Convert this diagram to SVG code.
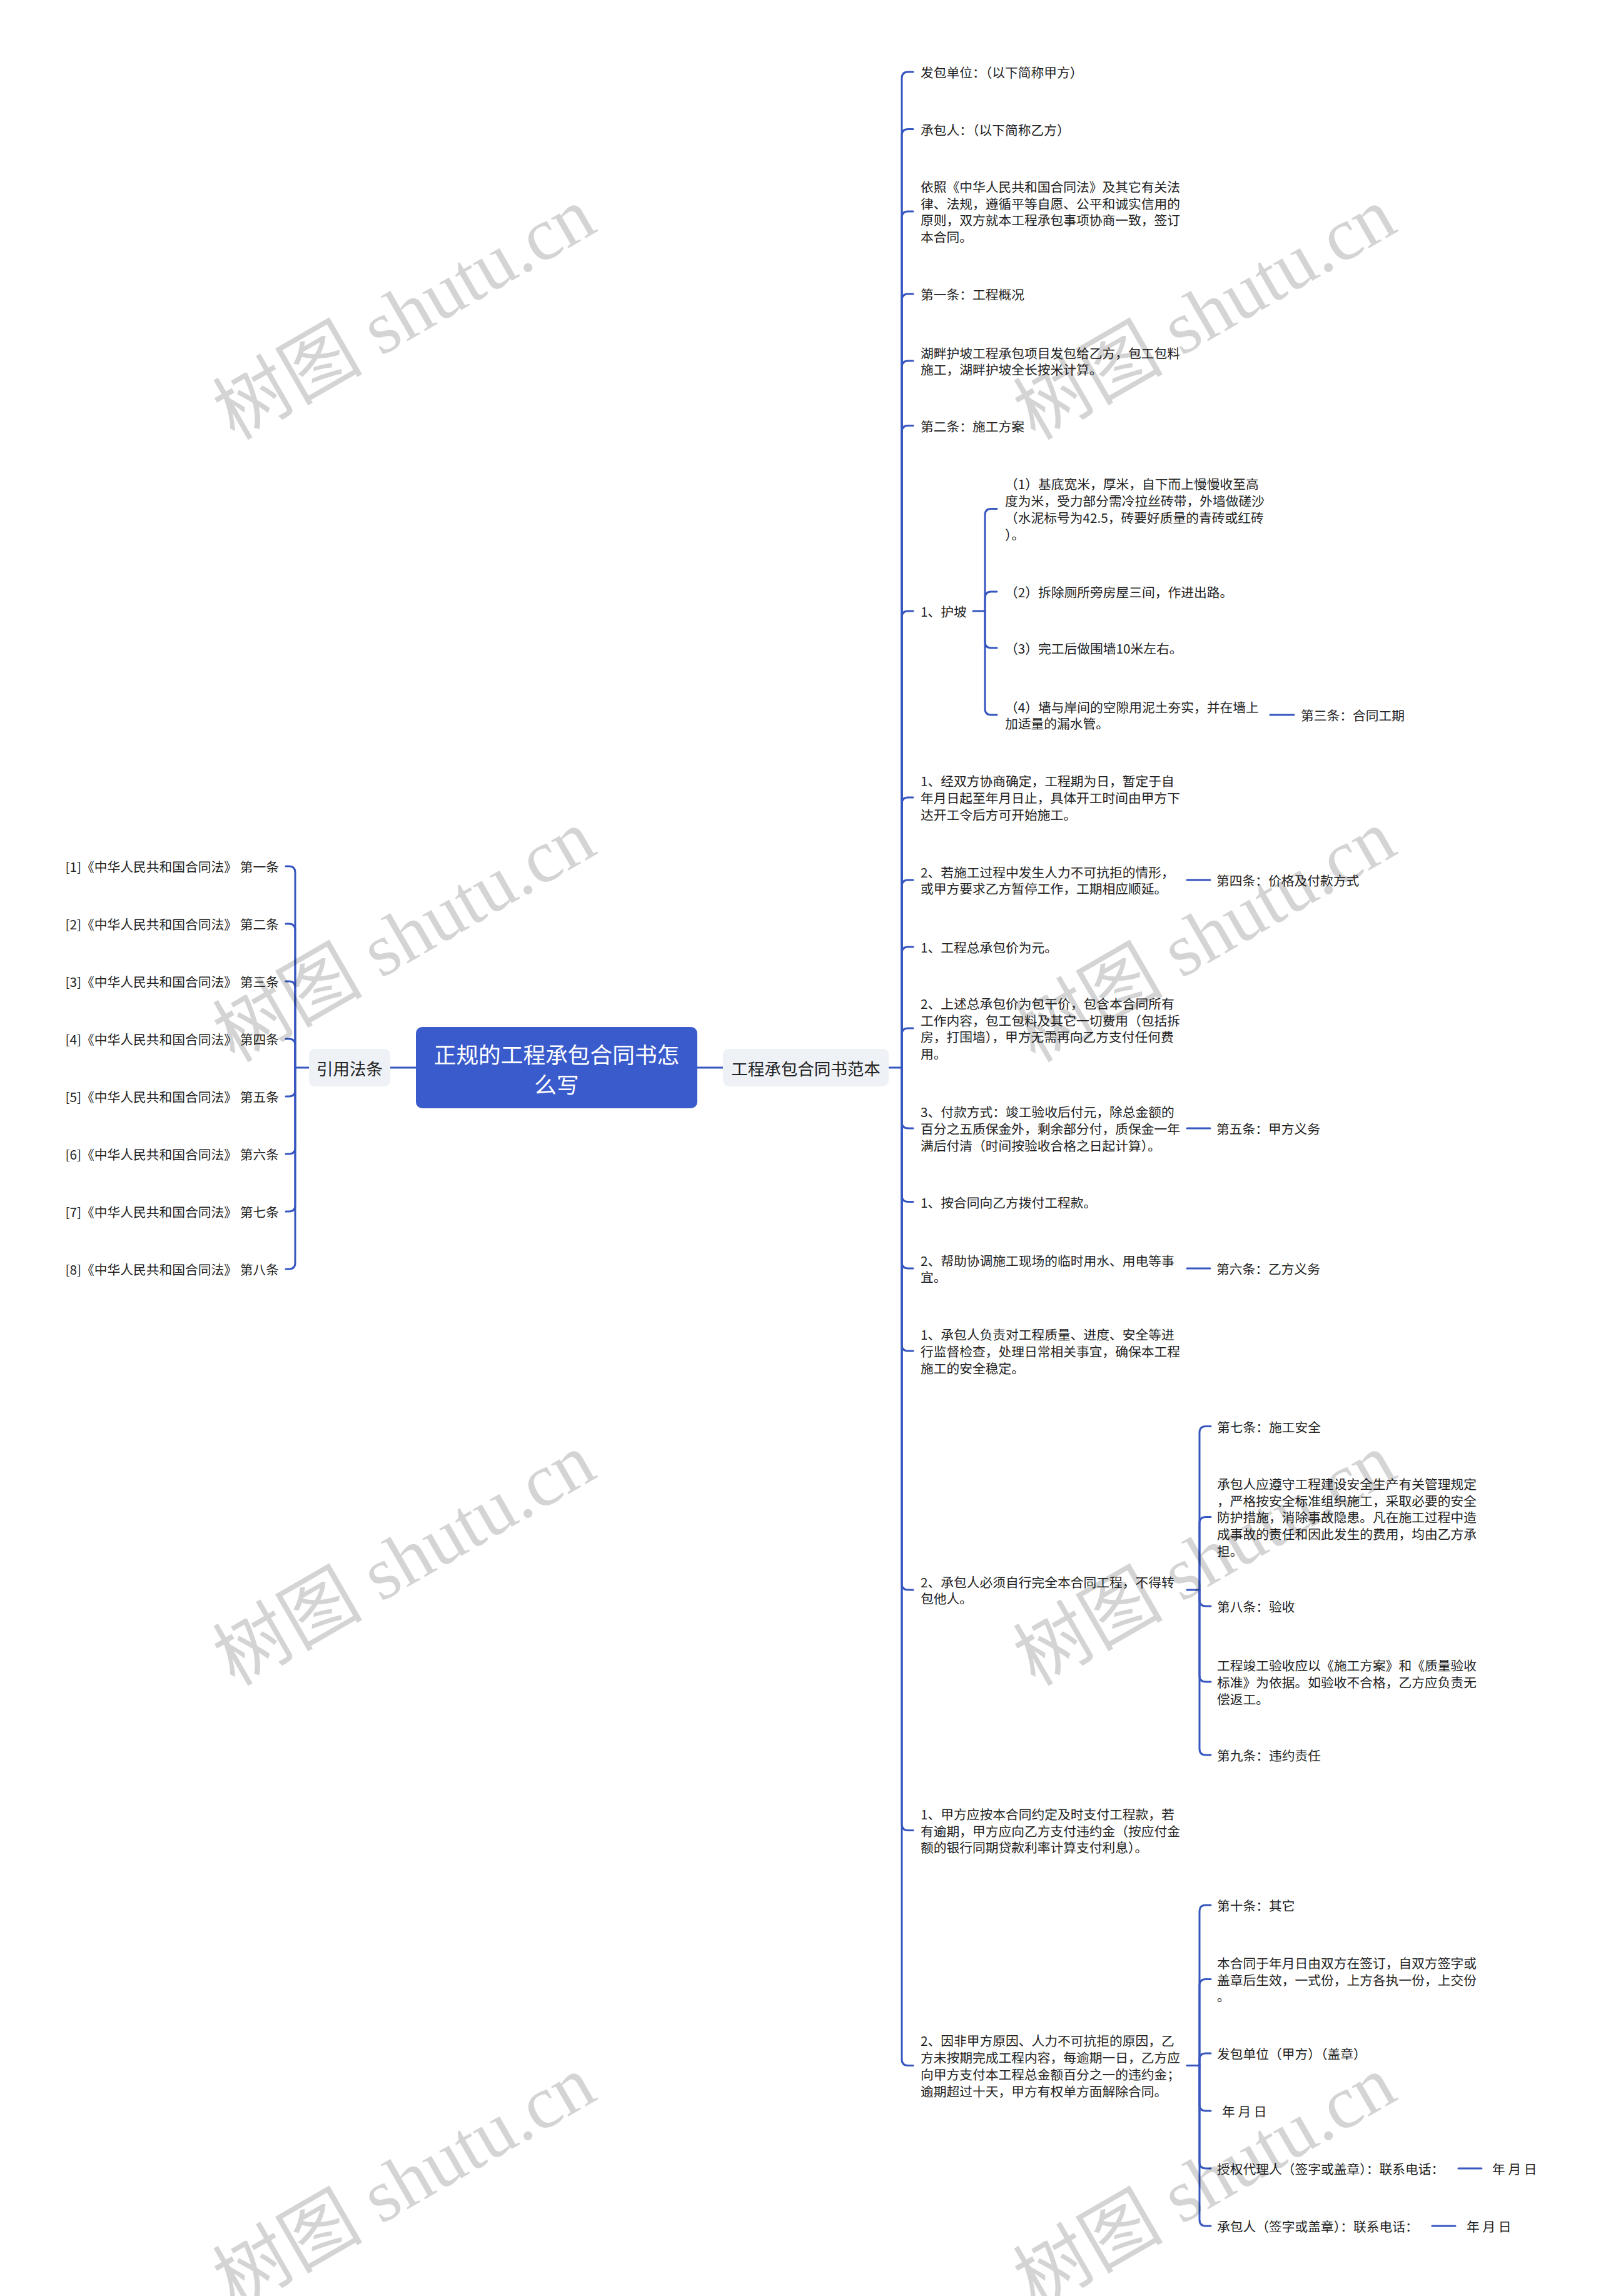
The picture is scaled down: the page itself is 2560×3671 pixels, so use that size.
<svg xmlns="http://www.w3.org/2000/svg" width="2560" height="3671" viewBox="0 0 2560 3671">
<style>
.t{font-family:"Noto Sans CJK SC","Noto Sans",sans-serif;font-size:20.75px;fill:#222}
tspan{dominant-baseline:central}
.ln{fill:none;stroke:#3656c0;stroke-width:3;stroke-linecap:round;stroke-linejoin:round}
.box{fill:#eef1f6}
.bt{font-family:"Noto Sans CJK SC","Noto Sans",sans-serif;font-size:26.5px;fill:#222;text-anchor:middle}
.rt{font-family:"Noto Sans CJK SC","Noto Sans",sans-serif;font-size:35.7px;fill:#fff;text-anchor:middle}
.wm{font-family:"Liberation Serif","Noto Sans CJK SC",serif;font-size:120px;fill:#000;fill-opacity:0.17}
</style>
<rect width="2560" height="3671" fill="#fff"/>

<g id="connectors" class="ln">
<path d="M665 1707H624M1115 1707H1156M494 1707H472M1421 1707H1442"/>
<path d="M472 1707V1395Q472 1385 462 1385H457"/>
<path d="M472 1707V1487Q472 1477 462 1477H457"/>
<path d="M472 1707V1579Q472 1569 462 1569H457"/>
<path d="M472 1707V1671Q472 1661 462 1661H457"/>
<path d="M472 1707V1743Q472 1753 462 1753H457"/>
<path d="M472 1707V1835Q472 1845 462 1845H457"/>
<path d="M472 1707V1927Q472 1937 462 1937H457"/>
<path d="M472 1707V2019Q472 2029 462 2029H457"/>
<path d="M1442 1707V125Q1442 115 1452 115H1460"/>
<path d="M1442 1707V216.5Q1442 206.5 1452 206.5H1460"/>
<path d="M1442 1707V348Q1442 338 1452 338H1460"/>
<path d="M1442 1707V480Q1442 470 1452 470H1460"/>
<path d="M1442 1707V587Q1442 577 1452 577H1460"/>
<path d="M1442 1707V690.5Q1442 680.5 1452 680.5H1460"/>
<path d="M1442 1707V987Q1442 977 1452 977H1460"/>
<path d="M1442 1707V1285Q1442 1275 1452 1275H1460"/>
<path d="M1442 1707V1417Q1442 1407 1452 1407H1460"/>
<path d="M1442 1707V1524Q1442 1514 1452 1514H1460"/>
<path d="M1442 1707V1654Q1442 1644 1452 1644H1460"/>
<path d="M1442 1707V1794Q1442 1804 1452 1804H1460"/>
<path d="M1442 1707V1911.5Q1442 1921.5 1452 1921.5H1460"/>
<path d="M1442 1707V2018Q1442 2028 1452 2028H1460"/>
<path d="M1442 1707V2150Q1442 2160 1452 2160H1460"/>
<path d="M1442 1707V2532Q1442 2542 1452 2542H1460"/>
<path d="M1442 1707V2916.5Q1442 2926.5 1452 2926.5H1460"/>
<path d="M1442 1707V3292.5Q1442 3302.5 1452 3302.5H1460"/>
<path d="M1556 977H1575"/>
<path d="M1575 977V823.5Q1575 813.5 1585 813.5H1594"/>
<path d="M1575 977V956Q1575 946 1585 946H1594"/>
<path d="M1575 977V1026Q1575 1036 1585 1036H1594"/>
<path d="M1575 977V1133Q1575 1143 1585 1143H1594"/>
<path d="M2031 1143H2069"/>
<path d="M1898 1407H1935M1898 1804H1935M1898 2028H1935"/>
<path d="M1898 2542H1918"/>
<path d="M1918 2542V2290.5Q1918 2280.5 1928 2280.5H1936"/>
<path d="M1918 2542V2435.4Q1918 2425.4 1928 2425.4H1936"/>
<path d="M1918 2542V2558Q1918 2568 1928 2568H1936"/>
<path d="M1918 2542V2679Q1918 2689 1928 2689H1936"/>
<path d="M1918 2542V2796Q1918 2806 1928 2806H1936"/>
<path d="M1898 3302.5H1918"/>
<path d="M1918 3302.5V3056Q1918 3046 1928 3046H1936"/>
<path d="M1918 3302.5V3174.5Q1918 3164.5 1928 3164.5H1936"/>
<path d="M1918 3302.5V3293Q1918 3283 1928 3283H1936"/>
<path d="M1918 3302.5V3365Q1918 3375 1928 3375H1936"/>
<path d="M1918 3302.5V3457Q1918 3467 1928 3467H1936"/>
<path d="M1918 3302.5V3549Q1918 3559 1928 3559H1936"/>
<path d="M2332 3467H2369M2290 3559H2327"/>
</g>

<g id="root">
<rect x="665" y="1642" width="450" height="130" rx="10" fill="#3a5bcc"/>
<text class="rt"><tspan x="890" y="1684">正规的工程承包合同书怎</tspan><tspan x="890" y="1732">么写</tspan></text>
</g>
<g id="n-yinyong">
<rect class="box" x="494" y="1677" width="130" height="60" rx="9"/>
<text class="bt"><tspan x="559" y="1707">引用法条</tspan></text>
</g>
<g id="n-fanben">
<rect class="box" x="1156" y="1677" width="265" height="60" rx="9"/>
<text class="bt"><tspan x="1288.5" y="1707">工程承包合同书范本</tspan></text>
</g>

<g id="left-leaves" text-anchor="end">
<g id="l1"><text class="t"><tspan x="446" y="1385">[1]《中华人民共和国合同法》 第一条</tspan></text></g>
<g id="l2"><text class="t"><tspan x="446" y="1477">[2]《中华人民共和国合同法》 第二条</tspan></text></g>
<g id="l3"><text class="t"><tspan x="446" y="1569">[3]《中华人民共和国合同法》 第三条</tspan></text></g>
<g id="l4"><text class="t"><tspan x="446" y="1661">[4]《中华人民共和国合同法》 第四条</tspan></text></g>
<g id="l5"><text class="t"><tspan x="446" y="1753">[5]《中华人民共和国合同法》 第五条</tspan></text></g>
<g id="l6"><text class="t"><tspan x="446" y="1845">[6]《中华人民共和国合同法》 第六条</tspan></text></g>
<g id="l7"><text class="t"><tspan x="446" y="1937">[7]《中华人民共和国合同法》 第七条</tspan></text></g>
<g id="l8"><text class="t"><tspan x="446" y="2029">[8]《中华人民共和国合同法》 第八条</tspan></text></g>
</g>

<g id="right-nodes">
<g id="r1"><text class="t"><tspan x="1472" y="115">发包单位：（以下简称甲方）</tspan></text></g>
<g id="r2"><text class="t"><tspan x="1472" y="206.5">承包人：（以下简称乙方）</tspan></text></g>
<g id="r3"><text class="t"><tspan x="1472" y="297.8">依照《中华人民共和国合同法》及其它有关法</tspan><tspan x="1472" y="324.6">律、法规，遵循平等自愿、公平和诚实信用的</tspan><tspan x="1472" y="351.4">原则，双方就本工程承包事项协商一致，签订</tspan><tspan x="1472" y="378.2">本合同。</tspan></text></g>
<g id="r4"><text class="t"><tspan x="1472" y="470">第一条：工程概况</tspan></text></g>
<g id="r5"><text class="t"><tspan x="1472" y="563.6">湖畔护坡工程承包项目发包给乙方，包工包料</tspan><tspan x="1472" y="590.4">施工，湖畔护坡全长按米计算。</tspan></text></g>
<g id="r6"><text class="t"><tspan x="1472" y="680.5">第二条：施工方案</tspan></text></g>
<g id="r7"><text class="t"><tspan x="1472" y="977">1、护坡</tspan></text></g>
<g id="r7-1"><text class="t"><tspan x="1607" y="773.3">（1）基底宽米，厚米，自下而上慢慢收至高</tspan><tspan x="1607" y="800.1">度为米，受力部分需冷拉丝砖带，外墙做磋沙</tspan><tspan x="1607" y="826.9">（水泥标号为42.5，砖要好质量的青砖或红砖</tspan><tspan x="1607" y="853.7">）。</tspan></text></g>
<g id="r7-2"><text class="t"><tspan x="1607" y="946">（2）拆除厕所旁房屋三间，作进出路。</tspan></text></g>
<g id="r7-3"><text class="t"><tspan x="1607" y="1036">（3）完工后做围墙10米左右。</tspan></text></g>
<g id="r7-4"><text class="t"><tspan x="1607" y="1129.6">（4）墙与岸间的空隙用泥土夯实，并在墙上</tspan><tspan x="1607" y="1156.4">加适量的漏水管。</tspan></text></g>
<g id="r7-4-1"><text class="t"><tspan x="2080" y="1143">第三条：合同工期</tspan></text></g>
<g id="r8"><text class="t"><tspan x="1472" y="1248.2">1、经双方协商确定，工程期为日，暂定于自</tspan><tspan x="1472" y="1275">年月日起至年月日止，具体开工时间由甲方下</tspan><tspan x="1472" y="1301.8">达开工令后方可开始施工。</tspan></text></g>
<g id="r9"><text class="t"><tspan x="1472" y="1393.6">2、若施工过程中发生人力不可抗拒的情形，</tspan><tspan x="1472" y="1420.4">或甲方要求乙方暂停工作，工期相应顺延。</tspan></text></g>
<g id="r9-1"><text class="t"><tspan x="1945" y="1407">第四条：价格及付款方式</tspan></text></g>
<g id="r10"><text class="t"><tspan x="1472" y="1514">1、工程总承包价为元。</tspan></text></g>
<g id="r11"><text class="t"><tspan x="1472" y="1603.8">2、上述总承包价为包干价，包含本合同所有</tspan><tspan x="1472" y="1630.6">工作内容，包工包料及其它一切费用（包括拆</tspan><tspan x="1472" y="1657.4">房，打围墙），甲方无需再向乙方支付任何费</tspan><tspan x="1472" y="1684.2">用。</tspan></text></g>
<g id="r12"><text class="t"><tspan x="1472" y="1777.2">3、付款方式：竣工验收后付元，除总金额的</tspan><tspan x="1472" y="1804">百分之五质保金外，剩余部分付，质保金一年</tspan><tspan x="1472" y="1830.8">满后付清（时间按验收合格之日起计算）。</tspan></text></g>
<g id="r12-1"><text class="t"><tspan x="1945" y="1804">第五条：甲方义务</tspan></text></g>
<g id="r13"><text class="t"><tspan x="1472" y="1921.5">1、按合同向乙方拨付工程款。</tspan></text></g>
<g id="r14"><text class="t"><tspan x="1472" y="2014.6">2、帮助协调施工现场的临时用水、用电等事</tspan><tspan x="1472" y="2041.4">宜。</tspan></text></g>
<g id="r14-1"><text class="t"><tspan x="1945" y="2028">第六条：乙方义务</tspan></text></g>
<g id="r15"><text class="t"><tspan x="1472" y="2133.2">1、承包人负责对工程质量、进度、安全等进</tspan><tspan x="1472" y="2160">行监督检查，处理日常相关事宜，确保本工程</tspan><tspan x="1472" y="2186.8">施工的安全稳定。</tspan></text></g>
<g id="r16"><text class="t"><tspan x="1472" y="2528.6">2、承包人必须自行完全本合同工程，不得转</tspan><tspan x="1472" y="2555.4">包他人。</tspan></text></g>
<g id="r16-1"><text class="t"><tspan x="1946" y="2280.5">第七条：施工安全</tspan></text></g>
<g id="r16-2"><text class="t"><tspan x="1946" y="2371.8">承包人应遵守工程建设安全生产有关管理规定</tspan><tspan x="1946" y="2398.6">，严格按安全标准组织施工，采取必要的安全</tspan><tspan x="1946" y="2425.4">防护措施，消除事故隐患。凡在施工过程中造</tspan><tspan x="1946" y="2452.2">成事故的责任和因此发生的费用，均由乙方承</tspan><tspan x="1946" y="2479">担。</tspan></text></g>
<g id="r16-3"><text class="t"><tspan x="1946" y="2568">第八条：验收</tspan></text></g>
<g id="r16-4"><text class="t"><tspan x="1946" y="2662.2">工程竣工验收应以《施工方案》和《质量验收</tspan><tspan x="1946" y="2689">标准》为依据。如验收不合格，乙方应负责无</tspan><tspan x="1946" y="2715.8">偿返工。</tspan></text></g>
<g id="r16-5"><text class="t"><tspan x="1946" y="2806">第九条：违约责任</tspan></text></g>
<g id="r17"><text class="t"><tspan x="1472" y="2899.7">1、甲方应按本合同约定及时支付工程款，若</tspan><tspan x="1472" y="2926.5">有逾期，甲方应向乙方支付违约金（按应付金</tspan><tspan x="1472" y="2953.3">额的银行同期贷款利率计算支付利息）。</tspan></text></g>
<g id="r18"><text class="t"><tspan x="1472" y="3262.3">2、因非甲方原因、人力不可抗拒的原因，乙</tspan><tspan x="1472" y="3289.1">方未按期完成工程内容，每逾期一日，乙方应</tspan><tspan x="1472" y="3315.9">向甲方支付本工程总金额百分之一的违约金；</tspan><tspan x="1472" y="3342.7">逾期超过十天，甲方有权单方面解除合同。</tspan></text></g>
<g id="r18-1"><text class="t"><tspan x="1946" y="3046">第十条：其它</tspan></text></g>
<g id="r18-2"><text class="t"><tspan x="1946" y="3137.7">本合同于年月日由双方在签订，自双方签字或</tspan><tspan x="1946" y="3164.5">盖章后生效，一式份，上方各执一份，上交份</tspan><tspan x="1946" y="3191.3">。</tspan></text></g>
<g id="r18-3"><text class="t"><tspan x="1946" y="3283">发包单位（甲方）（盖章）</tspan></text></g>
<g id="r18-4"><text class="t"><tspan x="1954" y="3375">年 月 日</tspan></text></g>
<g id="r18-5"><text class="t"><tspan x="1946" y="3467">授权代理人（签字或盖章）：联系电话：</tspan></text></g>
<g id="r18-5-1"><text class="t"><tspan x="2386" y="3467">年 月 日</tspan></text></g>
<g id="r18-6"><text class="t"><tspan x="1946" y="3559">承包人（签字或盖章）：联系电话：</tspan></text></g>
<g id="r18-6-1"><text class="t"><tspan x="2345" y="3559">年 月 日</tspan></text></g>
</g>

<g id="watermark" class="wm">
<text transform="translate(375 705) rotate(-30)">树图 shutu.cn</text>
<text transform="translate(1655 705) rotate(-30)">树图 shutu.cn</text>
<text transform="translate(375 1700) rotate(-30)">树图 shutu.cn</text>
<text transform="translate(1655 1700) rotate(-30)">树图 shutu.cn</text>
<text transform="translate(375 2697) rotate(-30)">树图 shutu.cn</text>
<text transform="translate(1655 2697) rotate(-30)">树图 shutu.cn</text>
<text transform="translate(375 3692) rotate(-30)">树图 shutu.cn</text>
<text transform="translate(1655 3692) rotate(-30)">树图 shutu.cn</text>
</g>
</svg>
